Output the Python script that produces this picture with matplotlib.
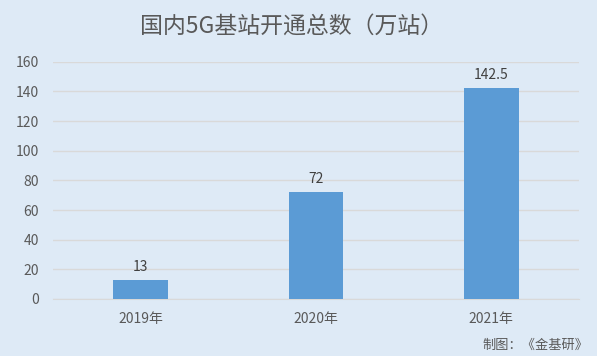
import numpy as np
import matplotlib
matplotlib.use('Agg')
from matplotlib import pyplot as plt

plt.rcParams['font.family'] = ['Noto Sans CJK SC', 'DejaVu Sans']

years = ['2019年', '2020年', '2021年']
stations = [13, 72, 142.5]
value_labels = ['13', '72', '142.5']
yticks = [0, 20, 40, 60, 80, 100, 120, 140, 160]

bg = '#DEEAF6'
bar_color = '#5B9BD5'
text_color = '#595959'

fig = plt.figure(figsize=(5.97, 3.56), dpi=100, facecolor=bg)
ax = fig.add_axes([53 / 597, 1 - 299 / 356, (579 - 53) / 597, (299 - 61.7) / 356])
ax.set_facecolor(bg)

x = np.arange(len(years))
bars = ax.bar(x, stations, width=0.31, color=bar_color, zorder=3)
for b, lab in zip(bars, value_labels):
    ax.text(b.get_x() + b.get_width() / 2, b.get_height() + 4, lab,
            ha='center', va='bottom', fontsize=10, color='#404040')

ax.set_xlim(-0.5, 2.5)
ax.set_ylim(0, 160)
ax.set_yticks(yticks)
ax.set_xticks(x)
ax.set_xticklabels(years)
ax.grid(axis='y', color='#D9D9D9', linewidth=1, zorder=0)
for s in ['top', 'right', 'left']:
    ax.spines[s].set_visible(False)
ax.spines['bottom'].set_color('#D9D9D9')
ax.tick_params(axis='both', length=0, labelsize=10, colors=text_color)
ax.tick_params(axis='y', pad=10)
ax.tick_params(axis='x', pad=9)

fig.text(292 / 597, 1 - 26 / 356, '国内5G基站开通总数（万站）', ha='center', va='center',
         fontsize=16.5, color=text_color)
fig.text(588 / 597, 1 - 345 / 356, '制图：《金基研》', ha='right', va='center',
         fontsize=9.5, color=text_color)

fig.savefig('out.png', dpi=100, facecolor=bg)
